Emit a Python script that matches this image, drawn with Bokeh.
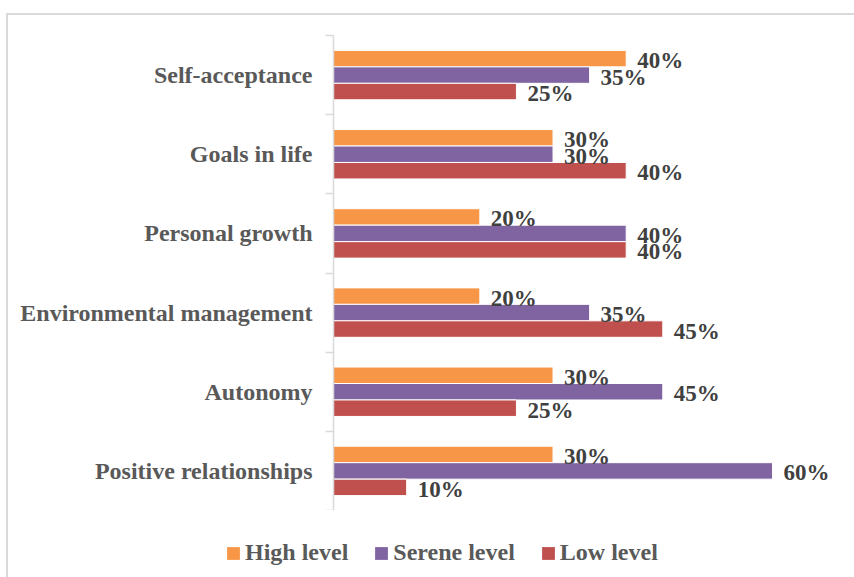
from bokeh.plotting import figure
from bokeh.models import (Range1d, FixedTicker, ColumnDataSource, Legend, LegendItem,
                          LabelSet)
from bokeh.embed import file_html
from bokeh.resources import INLINE

categories = ["Self-acceptance", "Goals in life", "Personal growth",
              "Environmental management", "Autonomy", "Positive relationships"]
series_names = ["High level", "Serene level", "Low level"]
high = [40, 30, 20, 20, 30, 30]
serene = [35, 30, 40, 35, 45, 60]
low = [25, 40, 40, 45, 25, 10]
colors = ["#F79646", "#8064A2", "#C0504D"]

FONT = "Liberation Serif"
n = len(categories)
centers = [n - 0.5 - i for i in range(n)]
bar_h = 0.208
offsets = [bar_h, 0.0, -bar_h]

p = figure(frame_width=521, frame_height=475, output_backend="svg", toolbar_location=None,
           x_range=Range1d(0, 71.2), y_range=Range1d(0, n),
           x_axis_location=None, min_border_left=325, min_border_right=0,
           min_border_top=20, min_border_bottom=0)
p.styles = {"margin-left": "6px", "margin-top": "13px",
            "border-left": "2px solid #D9D9D9", "border-top": "2px solid #D9D9D9"}
p.outline_line_color = None
p.xgrid.visible = False
p.ygrid.visible = False
p.background_fill_color = "white"
p.border_fill_color = "white"

yax = p.yaxis[0]
yax.ticker = FixedTicker(ticks=centers, minor_ticks=list(range(n + 1)))
yax.major_label_overrides = {c: cat for c, cat in zip(centers, categories)}
yax.major_tick_out = 0
yax.major_tick_in = 0
yax.minor_tick_out = 8
yax.minor_tick_in = 0
yax.minor_tick_line_color = "#D9D9D9"
yax.minor_tick_line_width = 1.5
yax.axis_line_color = "#D9D9D9"
yax.axis_line_width = 1.5
yax.major_label_standoff = 13
yax.major_label_text_font = FONT
yax.major_label_text_font_style = "bold"
yax.major_label_text_font_size = "24px"
yax.major_label_text_color = "#595959"

for name, vals, col, off in zip(series_names, [high, serene, low], colors, offsets):
    src = ColumnDataSource(dict(
        y=[c + off for c in centers], v=vals,
        lbl=[f"{v}%" for v in vals]))
    p.hbar(y="y", right="v", left=0, height=bar_h, source=src,
           fill_color=col, line_color="white", line_width=1)
    labels = LabelSet(x="v", y="y", text="lbl", source=src, x_offset=11, y_offset=-2,
                      text_font=FONT, text_font_style="bold", text_font_size="23px",
                      text_color="#404040", text_baseline="middle")
    p.add_layout(labels)

# legend strip below the chart (separate root so it is not frame-aligned)
lf = figure(width=846, height=67, output_backend="svg", toolbar_location=None,
            x_range=Range1d(0, 1), y_range=Range1d(0, 1),
            x_axis_location=None, y_axis_location=None,
            min_border_left=0, min_border_right=0, min_border_top=0, min_border_bottom=0)
lf.styles = {"margin-left": "6px", "border-left": "2px solid #D9D9D9"}
lf.outline_line_color = None
lf.xgrid.visible = False
lf.ygrid.visible = False
lf.background_fill_color = "white"
lf.border_fill_color = "white"
items = []
for name, col in zip(series_names, colors):
    r = lf.hbar(y=[5], right=[5], left=[4], height=0.5, fill_color=col, line_color=None)
    items.append(LegendItem(label=name, renderers=[r]))

legend = Legend(items=items, orientation="horizontal", location=(217, 11))
legend.padding = 0
legend.margin = 0
legend.border_line_color = None
legend.background_fill_alpha = 0
legend.glyph_width = 16
legend.glyph_height = 16
legend.label_height = 24
legend.label_standoff = 4
legend.spacing = 25
legend.label_text_font = FONT
legend.label_text_font_style = "bold"
legend.label_text_font_size = "24px"
legend.label_text_color = "#595959"
lf.add_layout(legend, "center")

open("out.html", "w").write(file_html([p, lf], INLINE))
